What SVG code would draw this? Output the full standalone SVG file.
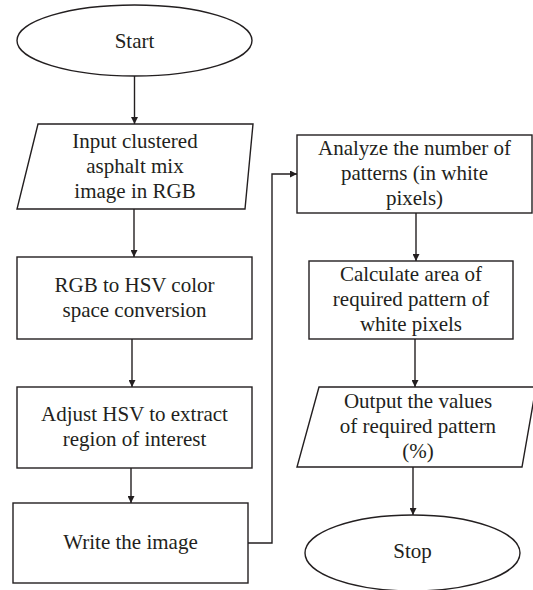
<svg xmlns="http://www.w3.org/2000/svg" width="533" height="590" viewBox="0 0 533 590">
<style>
.s{fill:#fff;stroke:#231f20;stroke-width:1.4}
.t{font-family:'Liberation Serif',Tinos,'Times New Roman','DejaVu Serif',serif;font-size:21px;fill:#231f20;text-anchor:middle}
.c{fill:none;stroke:#231f20;stroke-width:1.4}
</style>
<defs>
<marker id="a" viewBox="0 0 10 10" refX="10" refY="5" markerWidth="7" markerHeight="7" markerUnits="userSpaceOnUse" orient="auto">
<path d="M0,0 L10,5 L0,10 z" fill="#231f20"/>
</marker>
</defs>
<rect width="533" height="590" fill="#fff"/>
<g id="connectors">
<line class="c" x1="134.5" y1="76" x2="134.5" y2="124" marker-end="url(#a)"/>
<line class="c" x1="134" y1="209" x2="134" y2="257" marker-end="url(#a)"/>
<line class="c" x1="132" y1="339" x2="132" y2="387" marker-end="url(#a)"/>
<line class="c" x1="131" y1="468" x2="131" y2="503" marker-end="url(#a)"/>
<polyline class="c" points="248,543 272,543 272,174 297,174" marker-end="url(#a)"/>
<line class="c" x1="416" y1="213" x2="416" y2="261" marker-end="url(#a)"/>
<line class="c" x1="415" y1="339" x2="415" y2="387" marker-end="url(#a)"/>
<line class="c" x1="413" y1="467" x2="413" y2="515" marker-end="url(#a)"/>
</g>
<g id="start">
<ellipse class="s" cx="134.5" cy="40.5" rx="117.5" ry="35.5"/>
<text class="t" x="134.5" y="48">Start</text>
</g>
<g id="input">
<polygon class="s" points="38,124 253,124 245,209 17,209"/>
<text class="t" x="135" y="148">Input clustered</text>
<text class="t" x="135" y="173">asphalt mix</text>
<text class="t" x="135" y="198">image in RGB</text>
</g>
<g id="rgb2hsv">
<rect class="s" x="17" y="257" width="235" height="82"/>
<text class="t" x="134.5" y="292">RGB to HSV color</text>
<text class="t" x="134.5" y="317">space conversion</text>
</g>
<g id="adjust">
<rect class="s" x="17" y="387" width="235" height="81"/>
<text class="t" x="134.5" y="421">Adjust HSV to extract</text>
<text class="t" x="134.5" y="446">region of interest</text>
</g>
<g id="write">
<rect class="s" x="13" y="503" width="235" height="80"/>
<text class="t" x="130.5" y="549">Write the image</text>
</g>
<g id="analyze">
<rect class="s" x="297" y="135" width="235" height="78"/>
<text class="t" x="414.5" y="155">Analyze the number of</text>
<text class="t" x="414.5" y="180">patterns (in white</text>
<text class="t" x="414.5" y="205">pixels)</text>
</g>
<g id="calculate">
<rect class="s" x="309" y="261" width="204" height="78"/>
<text class="t" x="411" y="281">Calculate area of</text>
<text class="t" x="411" y="306">required pattern of</text>
<text class="t" x="411" y="331">white pixels</text>
</g>
<g id="output">
<polygon class="s" points="319,387 536,387 522,467 297,467"/>
<text class="t" x="418" y="408">Output the values</text>
<text class="t" x="418" y="433">of required pattern</text>
<text class="t" x="418" y="458">(%)</text>
</g>
<g id="stop">
<ellipse class="s" cx="412.5" cy="553" rx="107.5" ry="38"/>
<text class="t" x="412.5" y="558">Stop</text>
</g>
</svg>
